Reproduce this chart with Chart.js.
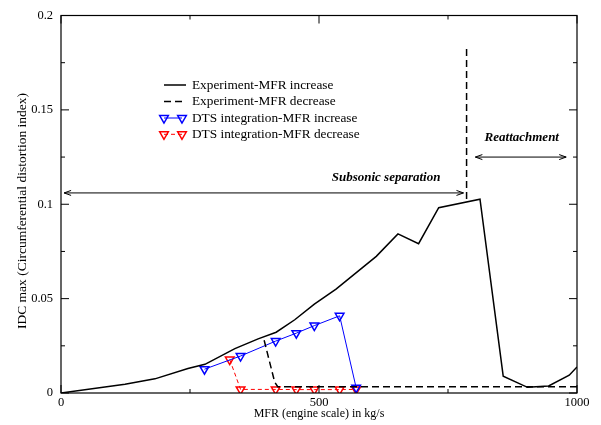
<!DOCTYPE html>
<html><head><meta charset="utf-8">
<script src="https://cdn.jsdelivr.net/npm/chart.js@4"></script>
<style>html,body{margin:0;padding:0;background:#fff}#wrap{width:601px;height:425px;position:relative}</style>
</head><body><div id="wrap"><canvas id="c"></canvas></div>
<script>
// ---- data ----
const expIncX = [0,124,182,246,279,337,382,417,453,491,533,611,653,693,732,812,857,904,945,985,1000];
const expIncY = [0,0.0046,0.0075,0.0130,0.0152,0.0235,0.0287,0.0322,0.0388,0.0471,0.0550,0.0724,0.0843,0.0791,0.0982,0.1027,0.0089,0.0030,0.0037,0.0094,0.0138];
const expDecX = [1000,420,414,393];
const expDecY = [0.0033,0.0033,0.0059,0.0287];
const sepLineX = [786,786];
const sepLineY = [0.1823,0.101];
const dtsIncX = [278,348,416,456,491,540,572];
const dtsIncY = [0.0126,0.0196,0.0275,0.0317,0.0357,0.0409,0.0028];
const dtsDecX = [327,348,416,456,491,540,572];
const dtsDecY = [0.0177,0.0019,0.0019,0.0018,0.0018,0.0018,0.0019];
const seriesLabels = ['Experiment-MFR increase','Experiment-MFR decrease','DTS integration-MFR increase','DTS integration-MFR decrease'];
const xTicks = [0,500,1000];
const xTickLabels = ['0','500','1000'];
const yTicks = [0,0.05,0.1,0.15,0.2];
const yTickLabels = ['0','0.05','0.1','0.15','0.2'];
const xMinorTicks = [250,750];
const yMinorTicks = [0.025,0.075,0.125,0.175];
const xTitle = 'MFR (engine scale) in kg/s';
const yTitle = 'IDC max (Circumferential distortion index)';
const regionArrows = [
  {label:'Subsonic separation', x0:6, x1:780, y:0.106, tx:630, ty:0.1143},
  {label:'Reattachment', x0:803, x1:979, y:0.125, tx:893, ty:0.1354}
];

const pts = (xs, ys) => xs.map((x, i) => ({x, y: ys[i]}));
const SERIF = "'Liberation Serif','Times New Roman',serif";
Chart.defaults.font.family = SERIF;
Chart.defaults.color = '#000';

const decor = {
  id: 'decor',
  afterDatasetsDraw(chart) {
    const {ctx, chartArea: a, scales: {x, y}} = chart;
    ctx.save();
    // frame
    ctx.strokeStyle = '#000'; ctx.lineWidth = 1.2; ctx.setLineDash([]);
    ctx.strokeRect(a.left, a.top, a.right - a.left, a.bottom - a.top);
    // ticks
    ctx.lineWidth = 1;
    const tk = (vals, len) => {
      vals.forEach(v => {
        const py = y.getPixelForValue(v);
        ctx.beginPath();
        ctx.moveTo(a.left, py); ctx.lineTo(a.left + len, py);
        ctx.moveTo(a.right, py); ctx.lineTo(a.right - len, py);
        ctx.stroke();
      });
    };
    tk(yTicks, 8); tk(yMinorTicks, 4);
    const tkx = (vals, len) => {
      vals.forEach(v => {
        const px = x.getPixelForValue(v);
        ctx.beginPath();
        ctx.moveTo(px, a.bottom); ctx.lineTo(px, a.bottom - len);
        ctx.moveTo(px, a.top); ctx.lineTo(px, a.top + len);
        ctx.stroke();
      });
    };
    tkx(xTicks, 8); tkx(xMinorTicks, 4);
    // arrows + labels
    regionArrows.forEach(r => {
      const x0 = x.getPixelForValue(r.x0), x1 = x.getPixelForValue(r.x1), py = y.getPixelForValue(r.y);
      ctx.beginPath();
      ctx.moveTo(x0, py); ctx.lineTo(x1, py);
      ctx.moveTo(x0 + 7, py - 2.5); ctx.lineTo(x0, py); ctx.lineTo(x0 + 7, py + 2.5);
      ctx.moveTo(x1 - 7, py - 2.5); ctx.lineTo(x1, py); ctx.lineTo(x1 - 7, py + 2.5);
      ctx.stroke();
      ctx.font = 'italic bold 13px ' + SERIF;
      ctx.fillStyle = '#000'; ctx.textAlign = 'center'; ctx.textBaseline = 'middle';
      ctx.fillText(r.label, x.getPixelForValue(r.tx), y.getPixelForValue(r.ty));
    });
    // y title
    ctx.save();
    ctx.translate(22, 211);
    ctx.rotate(-Math.PI / 2);
    ctx.font = '13.5px ' + SERIF;
    ctx.textAlign = 'center'; ctx.textBaseline = 'middle';
    ctx.fillText(yTitle, 0, 0);
    ctx.restore();
    // legend
    const lx0 = 164, lx1 = 186, mx1 = 182, tx = 192, rows = [85, 101.5, 118, 134.3];
    [0, 1, 2, 3].forEach((di, i) => {
      const ds = chart.data.datasets[di];
      const ry = rows[i];
      const hasPts = ds.pointRadius > 0;
      ctx.strokeStyle = ds.borderColor; ctx.lineWidth = ds.borderWidth;
      ctx.setLineDash(ds.borderDash || []);
      ctx.beginPath(); ctx.moveTo(lx0, ry); ctx.lineTo(hasPts ? mx1 : lx1, ry); ctx.stroke();
      ctx.setLineDash([]);
      if (hasPts) {
        [lx0, mx1].forEach(px => {
          ctx.lineWidth = ds.pointBorderWidth;
          ctx.strokeStyle = ds.borderColor;
          ctx.fillStyle = 'rgba(0,0,0,0)';
          Chart.helpers.drawPoint(ctx, {pointStyle: 'triangle', rotation: 180, radius: ds.pointRadius, borderWidth: ds.pointBorderWidth}, px, ry);
        });
      }
      ctx.fillStyle = '#000'; ctx.font = '13.3px ' + SERIF;
      ctx.textAlign = 'left'; ctx.textBaseline = 'middle';
      ctx.fillText(ds.label, tx, ry + 0.5);
    });
    ctx.restore();
  }
};

new Chart(document.getElementById('c'), {
  type: 'line',
  data: {
    datasets: [
      {label: seriesLabels[0], data: pts(expIncX, expIncY), borderColor: '#000', borderWidth: 1.5, pointRadius: 0, tension: 0},
      {label: seriesLabels[1], data: pts(expDecX, expDecY), borderColor: '#000', borderWidth: 1.5, borderDash: [7, 4], pointRadius: 0, tension: 0},
      {label: seriesLabels[2], data: pts(dtsIncX, dtsIncY), borderColor: '#0000ff', backgroundColor: 'rgba(0,0,0,0)', borderWidth: 1, pointRadius: 5, pointStyle: 'triangle', rotation: 180, pointBorderWidth: 1.5, tension: 0},
      {label: seriesLabels[3], data: pts(dtsDecX, dtsDecY), borderColor: '#ff0000', backgroundColor: 'rgba(0,0,0,0)', borderWidth: 1, borderDash: [4, 3], pointRadius: 5, pointStyle: 'triangle', rotation: 180, pointBorderWidth: 1.5, tension: 0},
      {label: '', data: pts(sepLineX, sepLineY), borderColor: '#000', borderWidth: 1.5, borderDash: [7, 4], pointRadius: 0, tension: 0}
    ]
  },
  options: {
    responsive: true, maintainAspectRatio: false, animation: false,
    layout: {padding: {top: 12, right: 24, bottom: 0, left: 0}},
    plugins: {legend: {display: false}, tooltip: {enabled: false}},
    scales: {
      x: {
        type: 'linear', min: 0, max: 1000,
        afterFit: s => { s.height = 32; },
        afterBuildTicks: s => { s.ticks = xTicks.map(v => ({value: v})); },
        ticks: {autoSkip: false, maxRotation: 0, padding: 2, font: {size: 12.5}, color: '#000',
          callback: (v) => xTickLabels[xTicks.indexOf(v)]},
        grid: {display: false, drawTicks: false}, border: {display: false},
        title: {display: true, text: xTitle, font: {size: 12}, color: '#000', padding: {top: 0, bottom: 4}}
      },
      y: {
        type: 'linear', min: 0, max: 0.2,
        afterFit: s => { s.width = 61; },
        afterBuildTicks: s => { s.ticks = yTicks.map(v => ({value: v})); },
        ticks: {autoSkip: false, padding: 8, font: {size: 12.5}, color: '#000',
          callback: (v) => yTickLabels[yTicks.indexOf(v)]},
        grid: {display: false, drawTicks: false}, border: {display: false}
      }
    }
  },
  plugins: [decor]
});
</script></body></html>
